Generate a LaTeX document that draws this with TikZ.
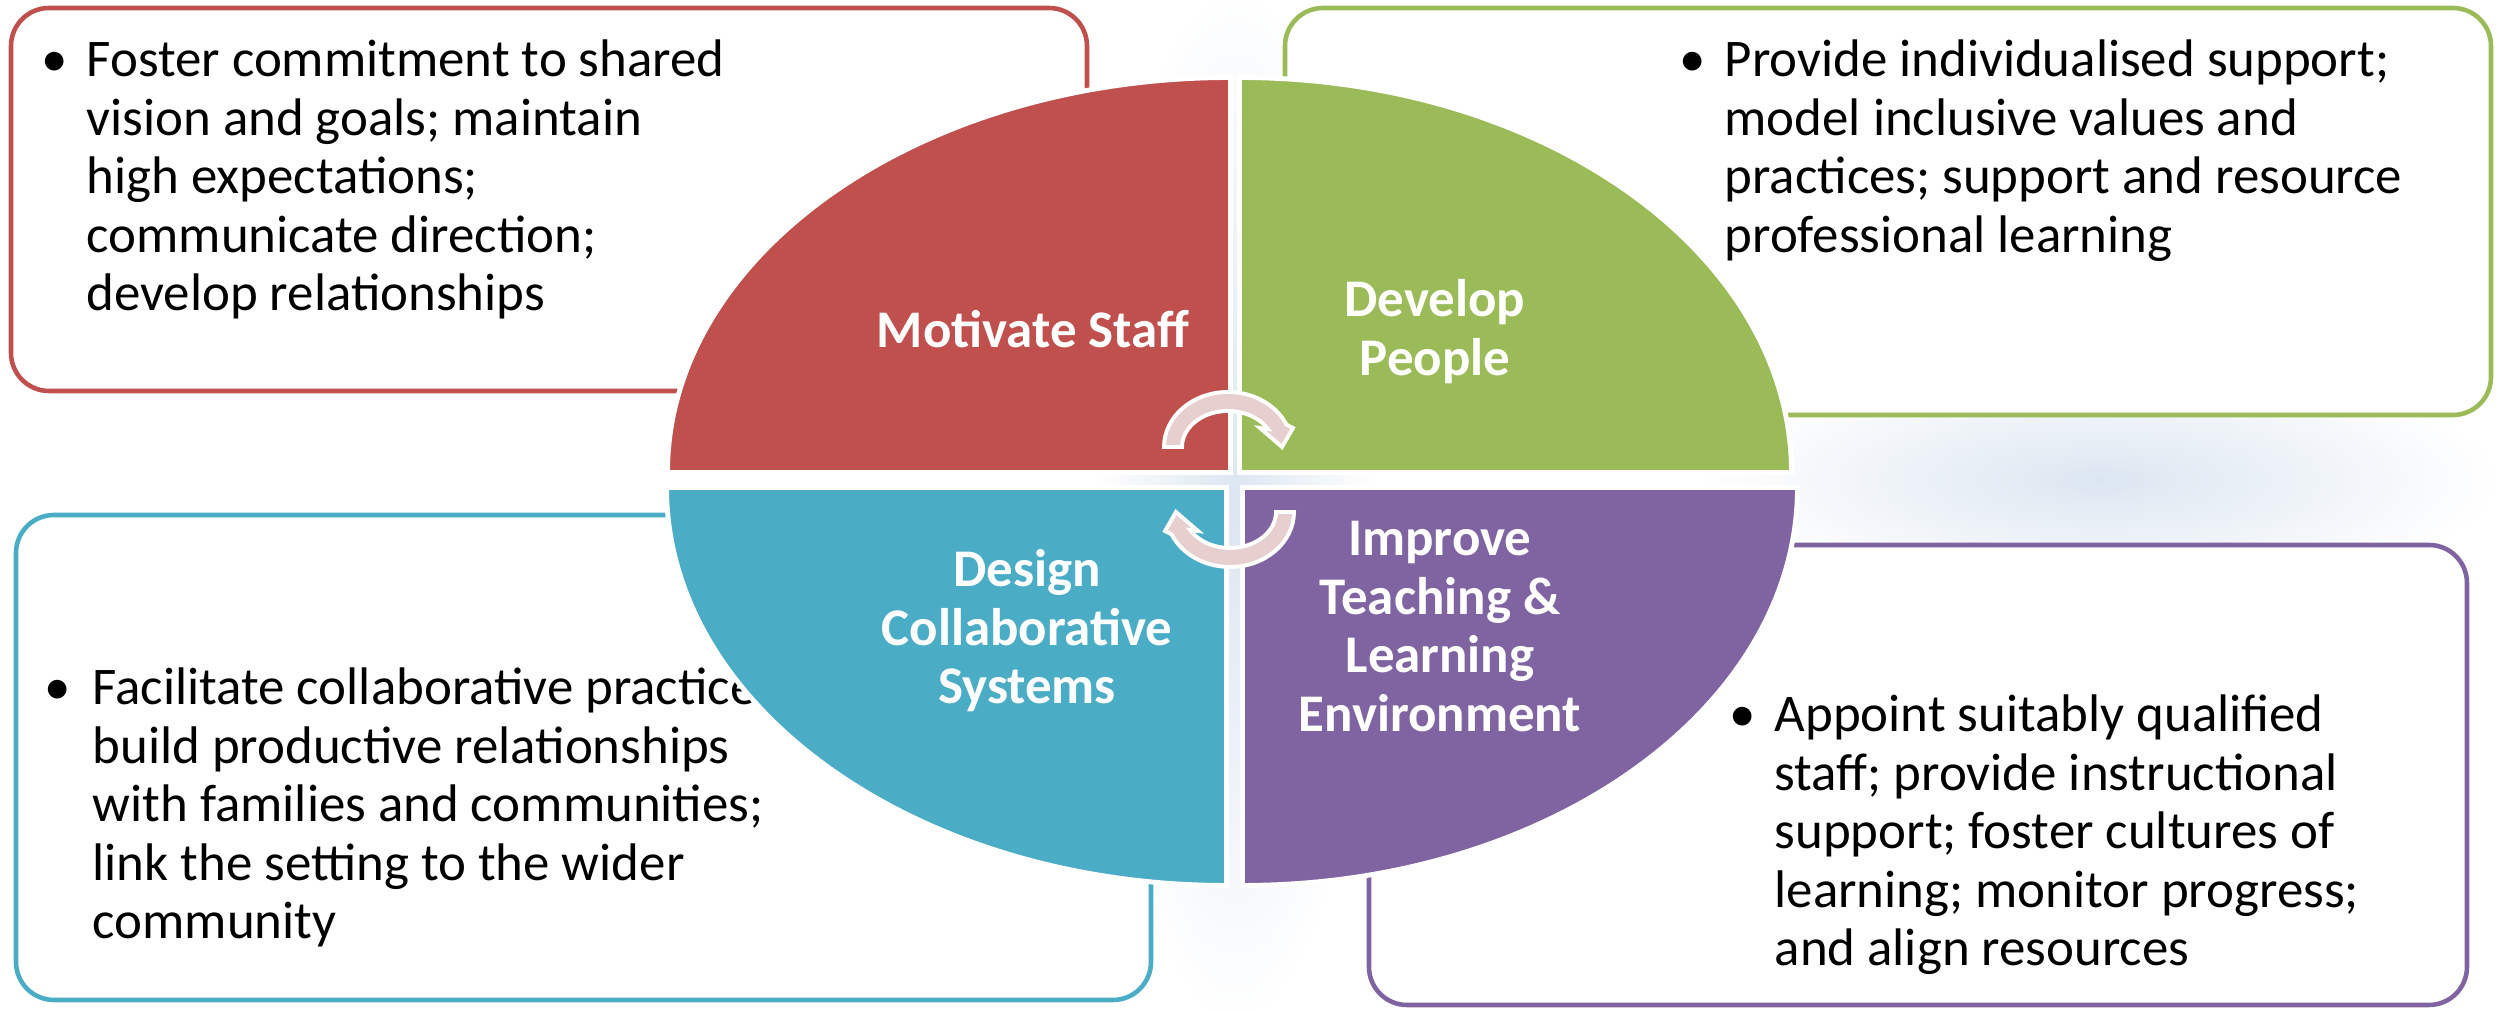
\documentclass[tikz,border=0pt]{standalone}
\usepackage{fontspec}
\setmainfont{Carlito}

\definecolor{cred}{HTML}{C0504D}
\definecolor{cgreen}{HTML}{9BBB59}
\definecolor{cteal}{HTML}{4BACC6}
\definecolor{cpurple}{HTML}{8064A2}
\definecolor{cglow}{RGB}{220,230,241}
\definecolor{cturn}{RGB}{232,207,207}

\begin{document}
\begin{tikzpicture}
  [x=0.1mm,y=0.1mm,
   every node/.style={inner sep=0pt,font=\fontsize{15.05}{16.65}\selectfont},
   box/.style={rectangle,draw=#1,line width=1.3pt,fill=white,rounded corners=3.8mm},
   txt/.style={align=left,anchor=base west},
   dot/.style={anchor=base west},
   lbl/.style={align=center,anchor=base,text=white,font=\fontsize{15.05}{16.65}\selectfont\bfseries},
   quad/.style={fill=#1,draw=white,line width=1.4pt}]
  \useasboundingbox (0,0) rectangle (2496,1010);

  % soft glow behind
  \shade[inner color=cglow,outer color=white] (1235,505) ellipse[x radius=140,y radius=520];
  \shade[inner color=cglow,outer color=white] (2100,530) ellipse[x radius=400,y radius=120];

  % text boxes (base anchor = last line)
  \node[box=cred,minimum width=107.6mm,minimum height=38.3mm] (bs) at (549,810.5) {};
  \node[box=cgreen,minimum width=120.6mm,minimum height=40.7mm] (bp) at (1888,798.5) {};
  \node[box=cteal,minimum width=113.5mm,minimum height=48.5mm] (bc) at (583.5,252.5) {};
  \node[box=cpurple,minimum width=109.8mm,minimum height=46mm] (bt) at (1918,235) {};

  \node[txt] (ts) at (86,699) {Foster commitment to shared\\vision and goals; maintain\\high expectations;\\communicate direction;\\develop relationships};
  \node[dot] (ds) at (41,933) {\textbullet};
  \node[txt] (tp) at (1724,757.5) {Provide individualised support;\\model inclusive values and\\practices; support and resource\\professional learning};
  \node[dot] (dp) at (1679,933) {\textbullet};
  \node[txt] (tc) at (92,71) {Facilitate collaborative practices;\\build productive relationships\\with families and communities;\\link the setting to the wider\\community};
  \node[dot] (dc) at (44,305) {\textbullet};
  \node[txt] (tt) at (1774,44) {Appoint suitably qualified\\staff; provide instructional\\support; foster cultures of\\learning; monitor progress;\\and align resources};
  \node[dot] (dt) at (1729,278) {\textbullet};

  % the four quarters
  \path[quad=cred] (1230.5,537.5) -- (1230.5,932.5)
    arc[start angle=90,end angle=180,x radius=563,y radius=395] -- cycle;
  \path[quad=cgreen] (1239.5,537.5) -- (1791.5,537.5)
    arc[start angle=0,end angle=90,x radius=552,y radius=395] -- cycle;
  \path[quad=cteal] (1226.5,522.5) -- (666.5,522.5)
    arc[start angle=180,end angle=270,x radius=560,y radius=398] -- cycle;
  \path[quad=cpurple] (1242.5,522.5) -- (1242.5,124.5)
    arc[start angle=270,end angle=360,x radius=555,y radius=398] -- cycle;

  \node[lbl] (ls) at (1033,662) {Motivate Staff};
  \node[lbl] (lp) at (1435,634.5) {Develop\\People};
  \node[lbl] (lc) at (1027,306) {Design\\Collaborative\\Systems};
  \node[lbl] (lt) at (1440,278.5) {Improve\\Teaching \&\\Learning\\Environment};

  % turning arrows in the middle
  \foreach \cx/\cy/\r in {1228/563/0,1230/498/180}
    \filldraw[fill=cturn,draw=white,line width=1.1pt,shift={(\cx,\cy)},rotate=\r]
      (180:64 and 55) arc[start angle=180,end angle=24,x radius=64,y radius=55]
      -- (65,19) -- (54,0) -- (32,19) -- (30:46 and 36)
      arc[start angle=30,end angle=180,x radius=46,y radius=36] -- cycle;
\end{tikzpicture}
\end{document}
